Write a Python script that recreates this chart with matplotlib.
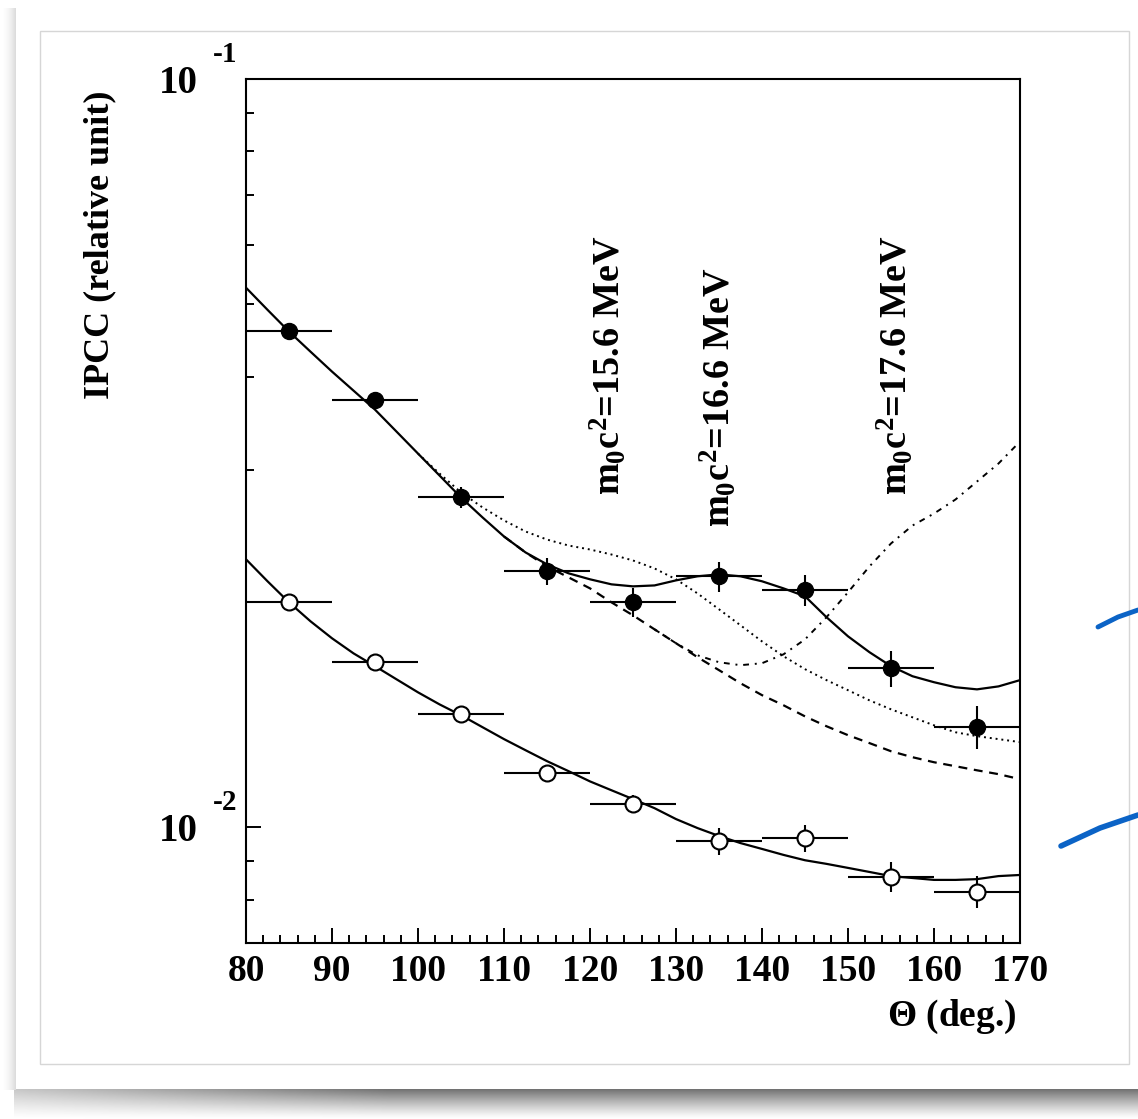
import numpy as np
import matplotlib
matplotlib.use('Agg')
import matplotlib.pyplot as plt
from matplotlib.patches import Rectangle
from matplotlib.ticker import FixedLocator, MultipleLocator, NullFormatter

plt.rcParams['font.family'] = 'Liberation Serif'
plt.rcParams['font.weight'] = 'bold'
plt.rcParams['mathtext.fontset'] = 'custom'
plt.rcParams['mathtext.rm'] = 'Liberation Serif:bold'
plt.rcParams['mathtext.it'] = 'Liberation Serif:bold'
plt.rcParams['mathtext.bf'] = 'Liberation Serif:bold'

# measured points
theta = [85, 95, 105, 115, 125, 135, 145, 155, 165]
theta_err = [5, 5, 5, 5, 5, 5, 5, 5, 5]
ipcc_full = [0.0461, 0.03727, 0.02758, 0.02197, 0.01997, 0.02164, 0.02072, 0.01631, 0.01360]
ipcc_full_err = [0.0008, 0.0009, 0.0009, 0.0009, 0.0009, 0.0010, 0.0010, 0.0009, 0.0009]
ipcc_open = [0.01997, 0.01661, 0.01416, 0.01180, 0.01073, 0.00958, 0.00967, 0.00858, 0.00819]
ipcc_open_err = [0.0003, 0.0003, 0.0003, 0.0003, 0.0003, 0.0004, 0.0004, 0.0004, 0.0004]

# model curves, sampled every 2.5 deg
grid = [80, 82.5, 85, 87.5, 90, 92.5, 95, 97.5, 100, 102.5, 105, 107.5, 110,
        112.5, 115, 117.5, 120, 122.5, 125, 127.5, 130, 132.5, 135, 137.5, 140,
        142.5, 145, 147.5, 150, 152.5, 155, 157.5, 160, 162.5, 165, 167.5, 170]
fit_16_6 = [0.0526, 0.04914, 0.04596, 0.04320, 0.04063, 0.03832, 0.03614, 0.03378,
            0.03157, 0.02951, 0.02758, 0.02594, 0.02446, 0.02329, 0.02245, 0.02184,
            0.02144, 0.02111, 0.02098, 0.02104, 0.02137, 0.02164, 0.02177, 0.02164,
            0.02131, 0.02085, 0.02035, 0.01908, 0.01799, 0.01713, 0.01641, 0.01591,
            0.01562, 0.01538, 0.01528, 0.01542, 0.01572]
fit_15_6 = [0.03157, 0.02969, 0.02801, 0.02675, 0.02570, 0.02484, 0.02423, 0.02379,
            0.02350, 0.02314, 0.02272, 0.02217, 0.02144, 0.02053, 0.01955, 0.01861,
            0.01771, 0.01692, 0.01626, 0.01572, 0.01524, 0.01477, 0.01437, 0.01402,
            0.01368, 0.01339, 0.01323, 0.01311, 0.01299]          # from 100 deg
no_x17 = [0.02446, 0.02329, 0.02231, 0.02157, 0.02085, 0.01997, 0.01919, 0.01838,
          0.01761, 0.01687, 0.01621, 0.01557, 0.01501, 0.01455, 0.01406, 0.01364,
          0.01327, 0.01295, 0.01263, 0.01240, 0.01221, 0.01206, 0.01191, 0.01177,
          0.01159]                                                # from 110 deg
fit_17_6 = [0.01838, 0.01761, 0.01697, 0.01661, 0.01646, 0.01656, 0.01702, 0.01782,
            0.01908, 0.02060, 0.02231, 0.02394, 0.02530, 0.02625, 0.02741, 0.02897,
            0.03062, 0.03276]                                     # from 127.5 deg
fit_open = [0.02280, 0.02131, 0.01997, 0.01884, 0.01788, 0.01707, 0.01641, 0.01576,
            0.01514, 0.01459, 0.01411, 0.01360, 0.01311, 0.01267, 0.01225, 0.01188,
            0.01151, 0.01120, 0.01090, 0.01060, 0.01025, 0.00997, 0.00973, 0.00952,
            0.00935, 0.00918, 0.00903, 0.00893, 0.00882, 0.00871, 0.00860, 0.00855,
            0.00850, 0.00850, 0.00852, 0.00860, 0.00863]

mass_labels = [r'$m_0c^2$=15.6 MeV', r'$m_0c^2$=16.6 MeV', r'$m_0c^2$=17.6 MeV']
mass_x = [122.1, 134.9, 155.5]
mass_y = [0.0278, 0.0252, 0.0278]

fig = plt.figure(figsize=(11.38, 11.19), dpi=100)

# card background with shadow
bg = fig.add_axes([0, 0, 1, 1], zorder=-10)
bg.set_xlim(0, 1138)
bg.set_ylim(1119, 0)
bg.axis('off')
v = np.linspace(0, 1, 40)[:, None]
h = np.linspace(0, 1, 300)[None, :]
shade = 1 - 0.62 * (1 - v) ** 1.2 * (0.4 + 0.6 * np.minimum(h * 3, 1))
bg.imshow(shade, cmap='gray', vmin=0, vmax=1, extent=(14, 1138, 1119, 1086),
          aspect='auto', interpolation='bilinear')
side = 1 - 0.14 * np.linspace(0, 1, 20)[None, :] ** 2
bg.imshow(side, cmap='gray', vmin=0, vmax=1, extent=(0, 16, 1090, 8),
          aspect='auto', interpolation='bilinear')
bg.add_patch(Rectangle((16, 6), 1122, 1083, facecolor='white', edgecolor='none'))
bg.add_patch(Rectangle((40, 31), 1089, 1033, fill=False, edgecolor='#d6d6d6', lw=1))
bg.plot([1098, 1118, 1138], [627, 617, 610], color='#0b63c6', lw=3.5,
        solid_capstyle='round')
bg.plot([1061, 1100, 1138], [846, 828, 815], color='#0b63c6', lw=4,
        solid_capstyle='round')

ax = fig.add_axes([0.2162, 0.1573, 0.6801, 0.7721])
ax.set_yscale('log')

ax.plot(grid, fit_16_6, color='k', lw=1.6)
ax.plot(grid[8:], fit_15_6, color='k', lw=1.4, ls=(0, (1, 2)))
ax.plot(grid[12:], no_x17, color='k', lw=1.6, ls=(0, (4, 3)))
ax.plot(grid[19:], fit_17_6, color='k', lw=1.4, ls=(0, (3, 3, 1, 3)))
ax.plot(grid, fit_open, color='k', lw=1.6)

ax.errorbar(theta, ipcc_full, xerr=theta_err, yerr=ipcc_full_err, fmt='o',
            color='k', ms=11.5, elinewidth=1.5, capsize=0)
ax.errorbar(theta, ipcc_open, xerr=theta_err, yerr=ipcc_open_err, fmt='o',
            color='k', mfc='white', mec='k', mew=1.5, ms=11.5, elinewidth=1.5,
            capsize=0)

for lab, x, y in zip(mass_labels, mass_x, mass_y):
    ax.text(x, y, lab, rotation=90, ha='center', va='bottom', fontsize=27.5)

ax.set_xlim(80, 170)
ax.set_ylim(0.007, 0.1)

ax.xaxis.set_major_locator(MultipleLocator(10))
ax.xaxis.set_minor_locator(MultipleLocator(2))
ax.yaxis.set_major_locator(FixedLocator([0.01, 0.1]))
ax.yaxis.set_minor_locator(FixedLocator([0.008, 0.009, 0.02, 0.03, 0.04, 0.05,
                                         0.06, 0.07, 0.08, 0.09]))
ax.yaxis.set_major_formatter(NullFormatter())
ax.yaxis.set_minor_formatter(NullFormatter())
ax.tick_params(axis='x', which='major', direction='in', length=11, width=1.4,
               labelsize=27, pad=8)
ax.tick_params(axis='x', which='minor', direction='in', length=5.5, width=1.4)
ax.tick_params(axis='y', which='major', direction='in', length=11, width=1.4)
ax.tick_params(axis='y', which='minor', direction='in', length=5.5, width=1.4)
for s in ax.spines.values():
    s.set_linewidth(1.5)

for val, exp in [(0.01, '-2'), (0.1, '-1')]:
    ax.annotate('10', xy=(0, val), xycoords=('axes fraction', 'data'),
                xytext=(-34.5, 0), textcoords='offset points',
                ha='right', va='center_baseline', fontsize=28)
    ax.annotate(exp, xy=(0, val), xycoords=('axes fraction', 'data'),
                xytext=(-24, 20), textcoords='offset points',
                ha='left', va='center_baseline', fontsize=21)

ax.text(-0.1886, 0.987, 'IPCC (relative unit)', transform=ax.transAxes,
        rotation=90, ha='center', va='top', fontsize=26)
ax.text(0.996, -0.0637, r'$\Theta$ (deg.)', transform=ax.transAxes,
        ha='right', va='top', fontsize=27)

fig.savefig('out.png', dpi=100)
